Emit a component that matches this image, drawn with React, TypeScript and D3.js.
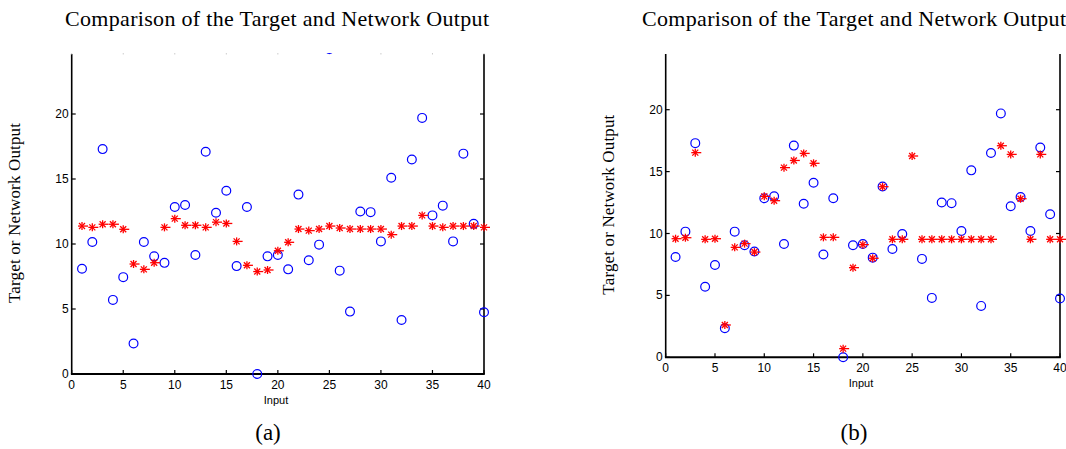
import * as d3 from 'd3';

// values
const INPUTS = [1, 2, 3, 4, 5, 6, 7, 8, 9, 10, 11, 12, 13, 14, 15, 16, 17, 18, 19, 20,
  21, 22, 23, 24, 25, 26, 27, 28, 29, 30, 31, 32, 33, 34, 35, 36, 37, 38, 39, 40];

const TARGET = [8.1, 10.15, 17.3, 5.7, 7.45, 2.35, 10.15, 9.05, 8.55, 12.85,
  13.0, 9.15, 17.1, 12.4, 14.1, 8.3, 12.85, 0.0, 9.05, 9.15,
  8.05, 13.8, 8.75, 9.95, 25.0, 7.95, 4.8, 12.5, 12.45, 10.2,
  15.1, 4.15, 16.5, 19.7, 12.2, 12.95, 10.2, 16.95, 11.55, 4.75];

const OUTPUT_A = [11.38, 11.28, 11.52, 11.52, 11.13, 8.46, 8.05, 8.56, 11.28, 11.95,
  11.44, 11.44, 11.28, 11.68, 11.58, 10.2, 8.36, 7.88, 8.0, 9.48,
  10.13, 11.15, 11.03, 11.15, 11.38, 11.23, 11.15, 11.15, 11.15, 11.15,
  10.72, 11.38, 11.38, 12.2, 11.38, 11.28, 11.38, 11.38, 11.38, 11.28];

const OUTPUT_B = [9.58, 9.66, 16.53, 9.53, 9.58, 2.61, 8.88, 9.18, 8.5, 13.0,
  12.65, 15.32, 15.9, 16.47, 15.67, 9.69, 9.69, 0.7, 7.24, 9.1,
  8.0, 13.78, 9.53, 9.53, 16.26, 9.53, 9.53, 9.53, 9.53, 9.53,
  9.53, 9.53, 9.53, 17.09, 16.39, 12.81, 9.53, 16.39, 9.53, 9.53];

const X_TICKS = [0, 5, 10, 15, 20, 25, 30, 35, 40];
const Y_TICKS = [0, 5, 10, 15, 20];

const TITLE = 'Comparison of the Target and Network Output';
const Y_LABEL = 'Target or Network Output';
const X_LABEL = 'Input';

const SERIF = '"Liberation Serif", "DejaVu Serif", serif';
const SANS = '"Liberation Sans", Arial, sans-serif';
const TOP = 54;

type PanelProps = {
  id: string;
  left: number;
  right: number;
  bottom: number;
  y20: number;
  output: number[];
  titleX: number;
  letter: string;
  letterX: number;
  inputX: number;
  inputY: number;
  topTicks: boolean;
};

const Star = ({ x, y }: { x: number; y: number }) => (
  <g stroke="#ff0000" strokeWidth={1.3} fill="none">
    <line x1={x - 4} y1={y} x2={x + 6} y2={y} />
    <line x1={x} y1={y - 4} x2={x} y2={y + 4} />
    <line x1={x - 3} y1={y - 3} x2={x + 3} y2={y + 3} />
    <line x1={x - 3} y1={y + 3} x2={x + 3} y2={y - 3} />
  </g>
);

const Panel = (p: PanelProps) => {
  const x = d3.scaleLinear().domain([0, 40]).range([p.left, p.right]);
  const y = d3.scaleLinear().domain([0, 20]).range([p.bottom, p.y20]);
  const yLabelY = (p.bottom + TOP) / 2 - 1;

  return (
    <g>
      <defs>
        <clipPath id={`clip-${p.id}`}>
          <rect x={0} y={TOP - 1} width={1066} height={449} />
        </clipPath>
      </defs>
      <text x={p.titleX} y={26} textAnchor="middle" fontFamily={SERIF} fontSize={22}
        textLength={424} lengthAdjust="spacing">{TITLE}</text>

      {/* axes box (top edge cut off) */}
      <g stroke="#000" fill="none">
        <line x1={p.left} y1={TOP} x2={p.left} y2={p.bottom} strokeWidth={1.6} />
        <line x1={p.right} y1={TOP} x2={p.right} y2={p.bottom} strokeWidth={1.6} />
        <line x1={p.left - 0.8} y1={p.bottom} x2={p.right + 0.8} y2={p.bottom} strokeWidth={2} />
      </g>

      {X_TICKS.map((t) => (
        <g key={`xt${t}`}>
          <line x1={x(t)} x2={x(t)} y1={p.bottom} y2={p.bottom - 4} stroke="#000" strokeWidth={1.2} />
          {p.topTicks && (
            <line x1={x(t)} x2={x(t)} y1={TOP - 1} y2={TOP + 0.5} stroke="#ccc" strokeWidth={1} />
          )}
          <text x={x(t)} y={p.bottom + 15} textAnchor="middle" fontFamily={SANS} fontSize={12}>{t}</text>
        </g>
      ))}
      {Y_TICKS.map((t) => (
        <g key={`yt${t}`}>
          <line x1={p.left} x2={p.left + 4} y1={y(t)} y2={y(t)} stroke="#000" strokeWidth={1.2} />
          <line x1={p.right} x2={p.right - 4} y1={y(t)} y2={y(t)} stroke="#000" strokeWidth={1.2} />
          <text x={p.left - 3} y={y(t) + 4} textAnchor="end" fontFamily={SANS} fontSize={12}>{t}</text>
        </g>
      ))}

      <text x={p.inputX} y={p.inputY} textAnchor="middle" fontFamily={SANS} fontSize={11}>{X_LABEL}</text>
      <text transform={`translate(${p.left - 52},${yLabelY}) rotate(-90)`} textAnchor="middle"
        fontFamily={SERIF} fontSize={17} textLength={180} lengthAdjust="spacing">{Y_LABEL}</text>
      <text x={p.letterX} y={440} textAnchor="middle" fontFamily={SERIF} fontSize={23}>{p.letter}</text>

      <g clipPath={`url(#clip-${p.id})`}>
        {INPUTS.map((d, i) => (
          <circle key={`c${d}`} cx={x(d)} cy={y(TARGET[i])} r={4.4} fill="none" stroke="#0000ff" strokeWidth={1.2} />
        ))}
        {INPUTS.map((d, i) => (
          <Star key={`s${d}`} x={x(d)} y={y(p.output[i])} />
        ))}
      </g>
    </g>
  );
};

export default function App() {
  return (
    <svg width={1066} height={449} style={{ position: 'absolute', left: 0, top: 0, background: '#fff' }}>
      <Panel id="a" left={71.7} right={484} bottom={374} y20={114} output={OUTPUT_A}
        titleX={277} letter="(a)" letterX={268} inputX={276} inputY={404} topTicks />
      <Panel id="b" left={665.7} right={1060} bottom={357.3} y20={109.7} output={OUTPUT_B}
        titleX={854} letter="(b)" letterX={854} inputX={861} inputY={387} topTicks={false} />
    </svg>
  );
}
